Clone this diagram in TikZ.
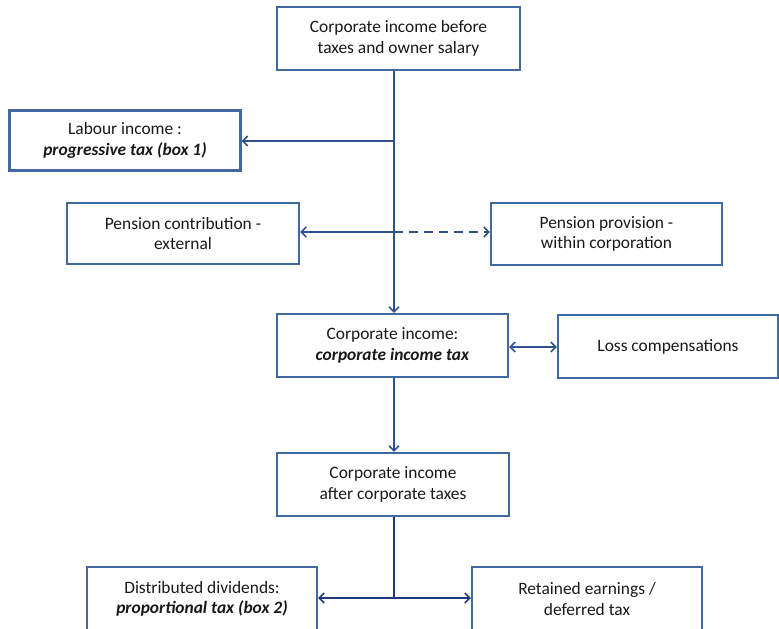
\documentclass[tikz,border=0pt]{standalone}
\usepackage{fontspec}
\setmainfont{Carlito}
\usetikzlibrary{arrows.meta}
\definecolor{boxline}{RGB}{65,105,160}
\definecolor{conn}{RGB}{47,82,143}
\definecolor{connb}{RGB}{31,56,120}
\begin{document}
\begin{tikzpicture}[x=1pt,y=-1pt,
  box/.style={draw=boxline,line width=2.2pt,fill=white,align=center,inner sep=0pt,
    font=\fontsize{17.4}{20.5}\selectfont,text=black!90},
  conline/.style={draw=conn,line width=1.8pt},
  tip/.style={-{Straight Barb[length=5pt,width=10pt,line width=1.6pt]}},
  bothtip/.style={{Straight Barb[length=5pt,width=10pt,line width=1.6pt]}-{Straight Barb[length=5pt,width=10pt,line width=1.6pt]}}]
\useasboundingbox (0,0) rectangle (779,629);
\begin{scope}
\clip (0,0) rectangle (779,629);
\node[box,minimum width=243pt,minimum height=63pt] (top) at (398.5,38.5) {Corporate income before\\taxes and owner salary};
\node[box,minimum width=231pt,minimum height=60pt] (lab) at (125,140.5) {Labour income :\\\textbf{\textit{progressive tax (box 1)}}};
\node[box,minimum width=232pt,minimum height=61pt] (pc) at (183,233.5) {Pension contribution -\\external};
\node[box,minimum width=231pt,minimum height=62pt] (pp) at (606.5,234) {Pension provision -\\within corporation};
\node[box,minimum width=231pt,minimum height=63pt] (ci) at (392.5,345.5) {Corporate income:\\\textbf{\textit{corporate income tax}}};
\node[box,minimum width=220pt,minimum height=63pt] (loss) at (668,346.5) {Loss compensations};
\node[box,minimum width=232pt,minimum height=63pt] (after) at (393,484.5) {Corporate income\\after corporate taxes};
\node[box,minimum width=230pt,minimum height=64pt] (dist) at (202,599) {Distributed dividends:\\\textbf{\textit{proportional tax (box 2)}}};
\node[box,minimum width=230pt,minimum height=64pt] (ret) at (587,599) {Retained earnings /\\deferred tax};
\end{scope}
\coordinate (trunk) at (394,0);
\coordinate (jlab) at (394,141);
\coordinate (jpen) at (394,232);
\coordinate (jloss) at (0,347);
\coordinate (jbot) at (394,598);
% trunk
\draw[conline,tip] (top.south -| trunk) -- (ci.north -| trunk);
\draw[conline,tip] (jlab) -- (lab.east |- jlab);
\draw[conline,tip] (jpen) -- (pc.east |- jpen);
\draw[conline,tip,dashed,dash pattern=on 9pt off 6pt] (jpen) -- (pp.west |- jpen);
\draw[conline,bothtip] (ci.east |- jloss) -- (loss.west |- jloss);
\draw[conline,tip] (ci.south -| trunk) -- (after.north -| trunk);
\draw[draw=connb,line width=1.8pt] (after.south -| trunk) -- (jbot);
\draw[draw=connb,line width=1.8pt,tip] (jbot) -- (dist.east |- jbot);
\draw[draw=connb,line width=1.8pt,tip] (jbot) -- (ret.west |- jbot);
\end{tikzpicture}
\end{document}
